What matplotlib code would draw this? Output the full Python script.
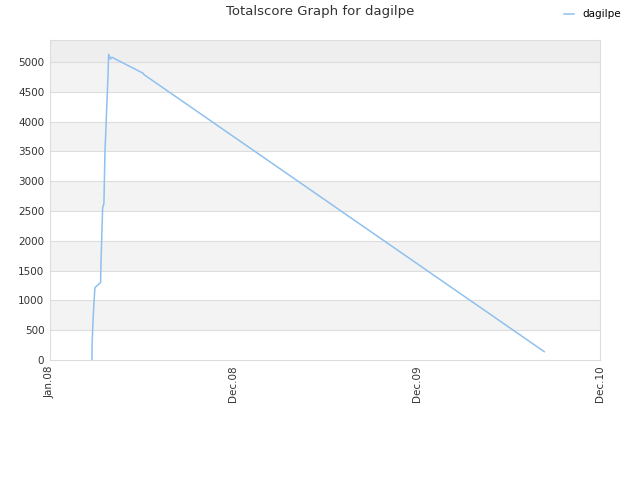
import matplotlib
matplotlib.use('Agg')
import matplotlib.pyplot as plt
import datetime as dt

# days after the first tick (labelled Jan.08) and total score
days = [83.6, 84, 85.6, 87.6, 89.6, 91.6, 100.9, 101.5, 103.5, 104.9, 107.5,
        109.5, 111.5, 113.5, 115.5, 116.9, 120.5, 123.4, 186, 187, 984]
scores = [0, 280, 620, 960, 1210, 1230, 1300, 1590, 2150, 2550, 2630, 3470,
          3890, 4330, 4750, 5130, 5050, 5080, 4810, 4790, 140]

tick_days = [0, 365, 730, 1095]
tick_labels = ['Jan.08', 'Dec.08', 'Dec.09', 'Dec.10']

start = dt.datetime(2007, 12, 31)
dates = [start + dt.timedelta(days=d) for d in days]
tick_dates = [start + dt.timedelta(days=d) for d in tick_days]

fig = plt.figure(figsize=(6.4, 4.8), dpi=100)
ax = fig.add_axes([0.078, 0.25, 0.8595, 0.6667])

ymax = 5370
# alternating bands
for lo in range(0, 5000, 1000):
    ax.axhspan(lo + 500, lo + 1000, color='#f3f3f3', zorder=0, lw=0)
ax.axhspan(5000, ymax, color='#eeeeee', zorder=0, lw=0)
for y in range(500, 5001, 500):
    ax.axhline(y, color='#dddddd', lw=0.8, zorder=1)

ax.plot(dates, scores, color='#90c0f0', lw=1.1, zorder=3, label='dagilpe')

ax.set_xlim(tick_dates[0], tick_dates[-1])
ax.set_ylim(0, ymax)
ax.set_yticks(range(0, 5001, 500))
ax.set_xticks(tick_dates)
ax.set_xticklabels(tick_labels, rotation=90)
ax.tick_params(axis='both', labelsize=7.5, colors='#333333', length=0, pad=4)

for s in ax.spines.values():
    s.set_color('#dddddd')

fig.text(0.5, 0.975, 'Totalscore Graph for dagilpe', ha='center', va='center',
         fontsize=9.5, color='#333333')
fig.legend(loc='upper right', bbox_to_anchor=(0.985, 1.0), frameon=False,
           fontsize=7.5, handlelength=1.0, handletextpad=0.8)

fig.savefig('out.png', dpi=100)
